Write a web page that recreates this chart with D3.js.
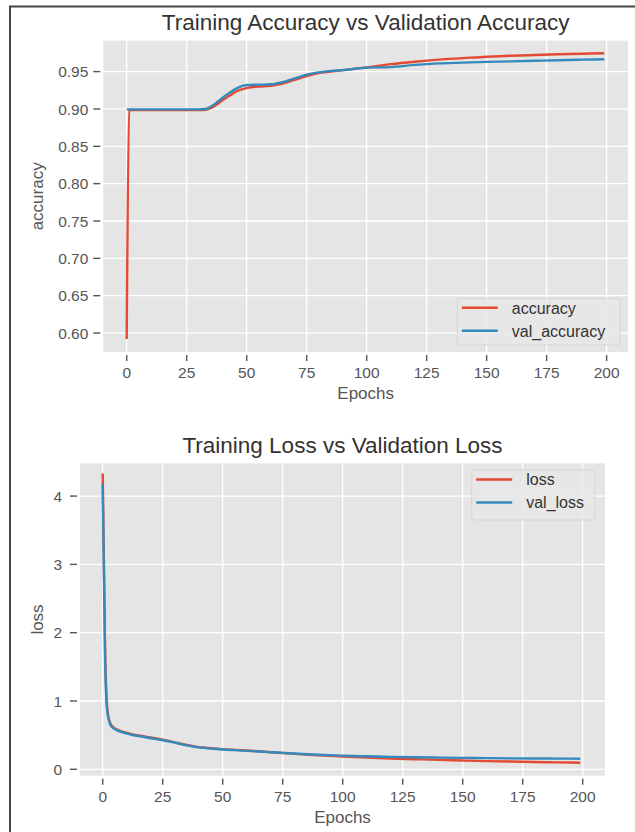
<!DOCTYPE html>
<html>
<head>
<meta charset="utf-8">
<script src="https://cdn.jsdelivr.net/npm/d3@7"></script>
<style>
  body { margin: 0; background: #fff; }
  text { font-family: "Liberation Sans", Arial, sans-serif; }
</style>
</head>
<body>
<div id="chart"></div>
<script>
var epochs      = [0, 1, 2, 3, 4, 5, 6, 8, 10, 12, 15, 20, 25, 30, 33, 35, 38, 40, 43, 46,
                   50, 55, 60, 65, 70, 75, 80, 85, 90, 100, 110, 120, 130, 140, 150, 160, 170, 180, 190, 199];
var accuracy    = [0.592, 0.898, 0.8985, 0.8985, 0.8985, 0.8985, 0.8985, 0.8985, 0.8985, 0.8985, 0.8985, 0.8985, 0.8985, 0.8985, 0.899, 0.901, 0.907, 0.912, 0.918, 0.924,
                   0.928, 0.930, 0.931, 0.934, 0.939, 0.944, 0.948, 0.950, 0.952, 0.9557, 0.960, 0.9633, 0.966, 0.968, 0.970, 0.9712, 0.9722, 0.9732, 0.974, 0.9746];
var valAccuracy = [0.8995, 0.8995, 0.8995, 0.8995, 0.8995, 0.8995, 0.8995, 0.8995, 0.8995, 0.8995, 0.8995, 0.8995, 0.8995, 0.8995, 0.900, 0.903, 0.910, 0.915, 0.922, 0.928,
                   0.932, 0.9325, 0.933, 0.936, 0.941, 0.946, 0.949, 0.951, 0.952, 0.9553, 0.956, 0.959, 0.961, 0.962, 0.963, 0.9637, 0.9645, 0.9653, 0.966, 0.9666];
var loss        = [4.33, 1.75, 0.85, 0.69, 0.63, 0.60, 0.58, 0.555, 0.535, 0.515, 0.495, 0.465, 0.435, 0.395, 0.37, 0.355, 0.335, 0.325, 0.315, 0.305,
                   0.295, 0.285, 0.275, 0.265, 0.25, 0.238, 0.225, 0.215, 0.205, 0.188, 0.172, 0.158, 0.147, 0.138, 0.128, 0.12, 0.113, 0.107, 0.101, 0.096];
var valLoss     = [4.18, 1.6, 0.82, 0.67, 0.615, 0.59, 0.57, 0.545, 0.525, 0.505, 0.485, 0.455, 0.425, 0.39, 0.365, 0.35, 0.33, 0.32, 0.31, 0.30,
                   0.29, 0.28, 0.27, 0.26, 0.25, 0.24, 0.23, 0.22, 0.212, 0.2, 0.19, 0.182, 0.176, 0.171, 0.167, 0.163, 0.16, 0.158, 0.156, 0.155];

var epochTicks = [0, 25, 50, 75, 100, 125, 150, 175, 200];
var accTicks   = [0.60, 0.65, 0.70, 0.75, 0.80, 0.85, 0.90, 0.95];
var lossTicks  = [0, 1, 2, 3, 4];

var RED = "#E24A33", BLUE = "#348ABD";

var svg = d3.select("#chart").append("svg")
    .attr("width", 635)
    .attr("height", 832);

// frame of the screenshot (left and top edges)
svg.append("path")
    .attr("d", "M10,832 L10,6.5 L635,6.5")
    .attr("fill", "none")
    .attr("stroke", "#444")
    .attr("stroke-width", 2);

function drawPanel(cfg) {
    var x = d3.scaleLinear().domain(cfg.xDomain).range([cfg.left, cfg.right]);
    var y = d3.scaleLinear().domain(cfg.yDomain).range([cfg.bottom, cfg.top]);
    var g = svg.append("g");

    // background
    g.append("rect")
        .attr("x", cfg.left).attr("y", cfg.top)
        .attr("width", cfg.right - cfg.left).attr("height", cfg.bottom - cfg.top)
        .attr("fill", "#E5E5E5");

    // grid
    g.selectAll(".vg").data(epochTicks).enter().append("line")
        .attr("x1", function(d) { return x(d); }).attr("x2", function(d) { return x(d); })
        .attr("y1", cfg.top).attr("y2", cfg.bottom)
        .attr("stroke", "#fff").attr("stroke-width", 1.3);
    g.selectAll(".hg").data(cfg.yTicks).enter().append("line")
        .attr("y1", function(d) { return y(d); }).attr("y2", function(d) { return y(d); })
        .attr("x1", cfg.left).attr("x2", cfg.right)
        .attr("stroke", "#fff").attr("stroke-width", 1.3);

    // ticks + labels
    g.selectAll(".xt").data(epochTicks).enter().append("line")
        .attr("x1", function(d) { return x(d); }).attr("x2", function(d) { return x(d); })
        .attr("y1", cfg.bottom + 3).attr("y2", cfg.bottom + 9)
        .attr("stroke", "#555").attr("stroke-width", 1.4);
    g.selectAll(".xl").data(epochTicks).enter().append("text")
        .attr("x", function(d) { return x(d); })
        .attr("y", cfg.bottom + 26)
        .attr("text-anchor", "middle")
        .attr("fill", "#555").style("font-size", "15.5px")
        .text(function(d) { return d; });

    g.selectAll(".yt").data(cfg.yTicks).enter().append("line")
        .attr("y1", function(d) { return y(d); }).attr("y2", function(d) { return y(d); })
        .attr("x1", cfg.left - 10).attr("x2", cfg.left - 3)
        .attr("stroke", "#555").attr("stroke-width", 1.4);
    g.selectAll(".yl").data(cfg.yTicks).enter().append("text")
        .attr("x", cfg.left - cfg.labelGap)
        .attr("y", function(d) { return y(d); })
        .attr("dy", "0.36em")
        .attr("text-anchor", "end")
        .attr("fill", "#555").style("font-size", "15.5px")
        .text(cfg.fmt);

    // axis titles
    g.append("text")
        .attr("x", (cfg.left + cfg.right) / 2)
        .attr("y", cfg.bottom + 47)
        .attr("text-anchor", "middle")
        .attr("fill", "#555").style("font-size", "17px")
        .text("Epochs");
    g.append("text")
        .attr("transform", "translate(43," + ((cfg.top + cfg.bottom) / 2) + ") rotate(-90)")
        .attr("text-anchor", "middle")
        .attr("fill", "#555").style("font-size", "17px")
        .text(cfg.yLabel);

    // chart title
    g.append("text")
        .attr("x", (cfg.left + cfg.right) / 2)
        .attr("y", cfg.top - 10.5)
        .attr("text-anchor", "middle")
        .attr("fill", "#333").style("font-size", "22.5px")
        .text(cfg.title);

    // lines
    var line = d3.line()
        .x(function(d) { return x(d[0]); })
        .y(function(d) { return y(d[1]); })
        .curve(d3.curveMonotoneX);

    cfg.series.forEach(function(s) {
        g.append("path")
            .datum(epochs.map(function(e, i) { return [e, s.values[i]]; }))
            .attr("fill", "none")
            .attr("stroke", s.color)
            .attr("stroke-width", 2.4)
            .attr("stroke-linejoin", "round")
            .attr("d", line);
    });

    // legend
    var L = cfg.legend;
    g.append("rect")
        .attr("x", L.x).attr("y", L.y)
        .attr("width", L.w).attr("height", L.h)
        .attr("rx", 3)
        .attr("fill", "#E8E8E8").attr("fill-opacity", 0.85)
        .attr("stroke", "#d6d6d6");
    cfg.series.forEach(function(s, i) {
        var yy = L.y + 9.5 + i * 23;
        g.append("line")
            .attr("x1", L.x + 4.5).attr("x2", L.x + 40.5)
            .attr("y1", yy).attr("y2", yy)
            .attr("stroke", s.color).attr("stroke-width", 2.4);
        g.append("text")
            .attr("x", L.x + 54.5).attr("y", yy)
            .attr("dy", "0.36em")
            .attr("fill", "#333").style("font-size", "16px")
            .text(s.name);
    });
}

drawPanel({
    title: "Training Accuracy vs Validation Accuracy",
    yLabel: "accuracy",
    left: 103.3, right: 628, top: 40.7, bottom: 352,
    xDomain: [-9.75, 208.9],
    yDomain: [0.5746, 0.9914],
    yTicks: accTicks,
    fmt: function(d) { return d.toFixed(2); },
    labelGap: 15,
    series: [
        { name: "accuracy", values: accuracy, color: RED },
        { name: "val_accuracy", values: valAccuracy, color: BLUE }
    ],
    legend: { x: 457.3, y: 298.3, w: 162.7, h: 46.7 }
});

drawPanel({
    title: "Training Loss vs Validation Loss",
    yLabel: "loss",
    left: 80, right: 605, top: 463.3, bottom: 775.7,
    xDomain: [-9.46, 209.3],
    yDomain: [-0.094, 4.48],
    yTicks: lossTicks,
    fmt: function(d) { return d; },
    labelGap: 18,
    series: [
        { name: "loss", values: loss, color: RED },
        { name: "val_loss", values: valLoss, color: BLUE }
    ],
    legend: { x: 471.7, y: 470, w: 123.3, h: 50 }
});
</script>
</body>
</html>
